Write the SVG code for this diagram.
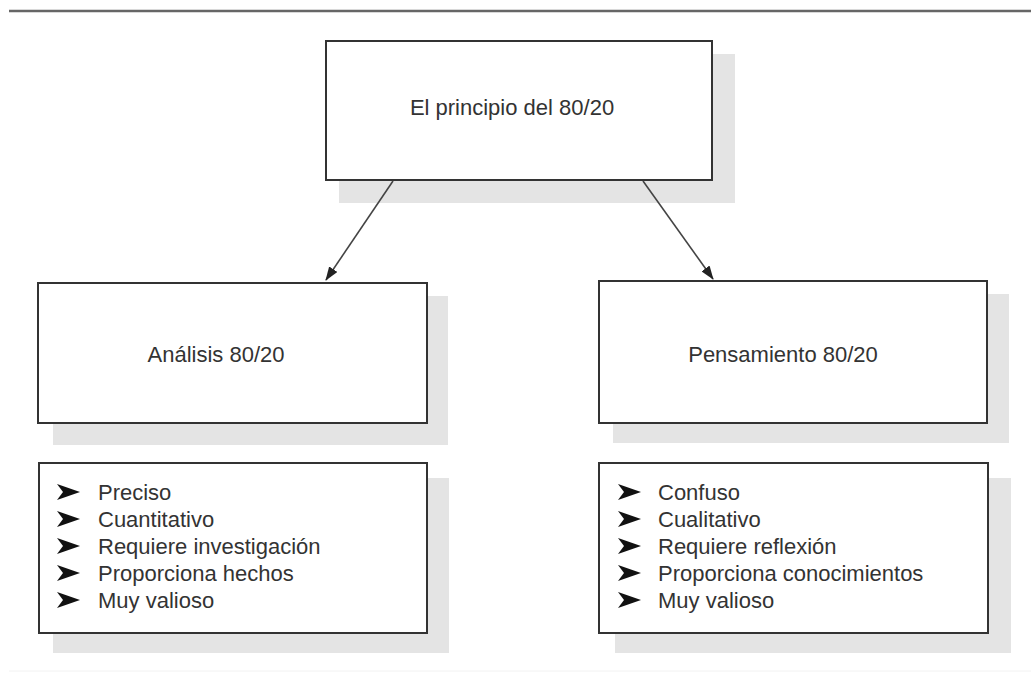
<svg xmlns="http://www.w3.org/2000/svg" width="1031" height="677" viewBox="0 0 1031 677">
<style>
.shadow{fill:#e4e4e4}
.box{fill:#fff;stroke:#333;stroke-width:2}
.t{font-family:"Liberation Sans",Arial,sans-serif;font-size:22px;fill:#333}
.conn{stroke:#444;stroke-width:1.6;fill:none}
.bul{fill:#111}
</style>
<defs>
<marker id="ah" markerWidth="14" markerHeight="10" refX="13" refY="5" orient="auto" markerUnits="userSpaceOnUse">
<path d="M0,0 L14,5 L0,10 Z" fill="#222"/>
</marker>
<polygon id="b" points="0,-8 23,0 0,8 6,0"/>
</defs>
<rect width="1031" height="677" fill="#fff"/>
<line x1="9" y1="11" x2="1031" y2="11" stroke="#666" stroke-width="2.4"/>
<line x1="9" y1="671" x2="1031" y2="671" stroke="#f2f2f2" stroke-width="1"/>

<g id="principio">
<rect class="shadow" x="339" y="54" width="396" height="149"/>
<rect class="box" x="326" y="41" width="386" height="139"/>
<text class="t" x="512" y="115" text-anchor="middle">El principio del 80/20</text>
</g>

<g id="analisis">
<rect class="shadow" x="53" y="296" width="395" height="149"/>
<rect class="box" x="38" y="283" width="389" height="140"/>
<text class="t" x="216" y="362" text-anchor="middle">Análisis 80/20</text>
</g>

<g id="pensamiento">
<rect class="shadow" x="613" y="294" width="396" height="149"/>
<rect class="box" x="599" y="281" width="388" height="142"/>
<text class="t" x="783" y="362" text-anchor="middle">Pensamiento 80/20</text>
</g>

<g id="lista-analisis">
<rect class="shadow" x="53" y="478" width="396" height="175"/>
<rect class="box" x="39" y="463" width="388" height="170"/>
<use href="#b" class="bul" x="57" y="492"/>
<use href="#b" class="bul" x="57" y="519"/>
<use href="#b" class="bul" x="57" y="546"/>
<use href="#b" class="bul" x="57" y="573"/>
<use href="#b" class="bul" x="57" y="600"/>
<text class="t" x="98" y="500">Preciso</text>
<text class="t" x="98" y="527">Cuantitativo</text>
<text class="t" x="98" y="554">Requiere investigación</text>
<text class="t" x="98" y="581">Proporciona hechos</text>
<text class="t" x="98" y="608">Muy valioso</text>
</g>

<g id="lista-pensamiento">
<rect class="shadow" x="615" y="478" width="396" height="175"/>
<rect class="box" x="599" y="463" width="389" height="170"/>
<use href="#b" class="bul" x="618" y="492"/>
<use href="#b" class="bul" x="618" y="519"/>
<use href="#b" class="bul" x="618" y="546"/>
<use href="#b" class="bul" x="618" y="573"/>
<use href="#b" class="bul" x="618" y="600"/>
<text class="t" x="658" y="500">Confuso</text>
<text class="t" x="658" y="527">Cualitativo</text>
<text class="t" x="658" y="554">Requiere reflexión</text>
<text class="t" x="658" y="581">Proporciona conocimientos</text>
<text class="t" x="658" y="608">Muy valioso</text>
</g>

<g id="connectors">
<line class="conn" x1="393" y1="181" x2="326" y2="280" marker-end="url(#ah)"/>
<line class="conn" x1="643" y1="181" x2="713" y2="279" marker-end="url(#ah)"/>
</g>
</svg>
